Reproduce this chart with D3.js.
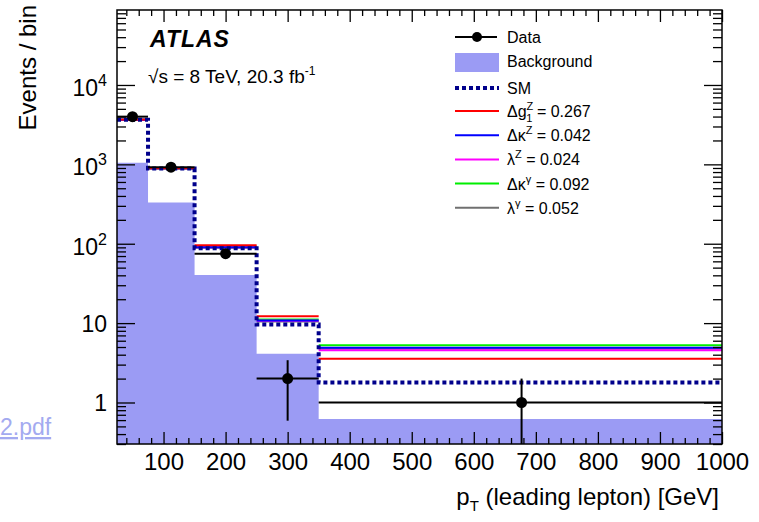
<!DOCTYPE html>
<html>
<head>
<meta charset="utf-8">
<script src="https://d3js.org/d3.v7.min.js"></script>
<style>
  body { margin: 0; background: #fff; }
  text { font-family: "Liberation Sans", Arial, Helvetica, sans-serif; }
</style>
</head>
<body>
<script>
// bin edges in GeV (leading lepton pT)
var binEdges = [25, 75, 150, 250, 350, 1000];

// data points (drawn at the mean pT of each bin)
var dataX = [50, 112, 200, 300, 677];
var dataY = [3990, 922, 75, 2, 1];
var dataErr = [63, 30, 8.7, 1.41, 1];

// expectations per bin
var background = [1050, 330, 40.4, 4.1, 0.62];
var smPred = [3640, 885, 88, 9.6, 1.79];
var dg1z = [3660, 895, 96, 12.2, 3.55];
var dkz = [3650, 890, 90, 10.8, 4.9];
var lz = [3650, 890, 90, 10.7, 4.55];
var dkg = [3660, 895, 92, 11.1, 5.26];
var lg = [3650, 888, 89, 10.5, 4.75];

var xMajor = [100, 200, 300, 400, 500, 600, 700, 800, 900, 1000];
var yMajor = [1, 10, 100, 1000, 10000];

var svgWidth = 759;
var svgHeight = 522;
var margin = { top: 10, right: 37, bottom: 78, left: 117 };
var width = svgWidth - margin.left - margin.right;
var height = svgHeight - margin.top - margin.bottom;

var svg = d3.select("body").append("svg")
  .attr("width", svgWidth)
  .attr("height", svgHeight);

var chart = svg.append("g")
  .attr("transform", `translate(${margin.left}, ${margin.top})`);

var x = d3.scaleLinear().domain([25, 1000]).range([0, width]);
var y = d3.scaleLog().domain([0.3, 8.8e4]).range([height, 0]);

chart.append("clipPath").attr("id", "plotclip")
  .append("rect").attr("width", width).attr("height", height);

var plot = chart.append("g").attr("clip-path", "url(#plotclip)");

// turn per-bin values into step points
function steps(vals) {
  var pts = vals.map(function(v, i) { return [binEdges[i], v]; });
  pts.push([binEdges[binEdges.length - 1], vals[vals.length - 1]]);
  return pts;
}

var area = d3.area()
  .curve(d3.curveStepAfter)
  .x(d => x(d[0]))
  .y0(height)
  .y1(d => y(d[1]));

var line = d3.line()
  .curve(d3.curveStepAfter)
  .x(d => x(d[0]))
  .y(d => y(d[1]));

plot.append("path")
  .attr("d", area(steps(background)))
  .attr("fill", "#9b9bf4");

var aTGC = [
  { vals: lg, color: "#707070" },
  { vals: dkg, color: "#00ee00" },
  { vals: lz, color: "#ff00ff" },
  { vals: dkz, color: "#0000ff" },
  { vals: dg1z, color: "#ff0000" }
];

// aTGC predictions: horizontal bin contents only
aTGC.forEach(function(s) {
  plot.selectAll(null).data(s.vals).enter().append("line")
    .attr("x1", (d, i) => x(binEdges[i]))
    .attr("x2", (d, i) => x(binEdges[i + 1]))
    .attr("y1", d => y(d)).attr("y2", d => y(d))
    .attr("stroke", s.color)
    .attr("stroke-width", 2);
});

plot.append("path")
  .attr("d", line(steps(smPred)))
  .attr("fill", "none")
  .attr("stroke", "#00008b")
  .attr("stroke-width", 4)
  .attr("stroke-dasharray", "4,3");

// data with error bars
var pts = plot.selectAll(".pt").data(dataY).enter().append("g");
pts.append("line")
  .attr("x1", (d, i) => x(binEdges[i]))
  .attr("x2", (d, i) => x(binEdges[i + 1]))
  .attr("y1", d => y(d)).attr("y2", d => y(d))
  .attr("stroke", "#000").attr("stroke-width", 2);
pts.append("line")
  .attr("x1", (d, i) => x(dataX[i])).attr("x2", (d, i) => x(dataX[i]))
  .attr("y1", (d, i) => y(d + dataErr[i]))
  .attr("y2", (d, i) => d - dataErr[i] > 0 ? y(d - dataErr[i]) : height + 5)
  .attr("stroke", "#000").attr("stroke-width", 2);
pts.append("circle")
  .attr("cx", (d, i) => x(dataX[i]))
  .attr("cy", d => y(d))
  .attr("r", 5.5)
  .attr("fill", "#000");

// axes: ROOT style ticks pointing inwards on all sides
var xMinor = d3.range(40, 1000, 20).filter(v => v % 100 !== 0);
var yMinor = [];
[0.1, 1, 10, 100, 1000, 10000].forEach(function(dec) {
  for (var k = 2; k <= 9; k++) {
    var v = dec * k;
    if (v >= 0.3 && v <= 8.8e4) yMinor.push(v);
  }
});

function styleAxis(g) {
  g.select(".domain").remove();
  g.selectAll(".tick line").attr("stroke", "#000").attr("stroke-width", 1.3);
}

chart.append("g").attr("transform", `translate(0, ${height})`)
  .call(d3.axisBottom(x).tickValues(xMajor).tickSize(-12).tickPadding(9).tickFormat(d3.format("d")))
  .call(styleAxis)
  .selectAll("text")
  .attr("font-size", 24).attr("fill", "#000")
  .style("font-family", "'Liberation Sans', Arial, sans-serif");

chart.append("g").attr("transform", `translate(0, ${height})`)
  .call(d3.axisBottom(x).tickValues(xMinor).tickSize(-6).tickFormat(""))
  .call(styleAxis);

chart.append("g")
  .call(d3.axisTop(x).tickValues(xMajor).tickSize(-12).tickFormat(""))
  .call(styleAxis);
chart.append("g")
  .call(d3.axisTop(x).tickValues(xMinor).tickSize(-6).tickFormat(""))
  .call(styleAxis);

chart.append("g")
  .call(d3.axisLeft(y).tickValues(yMajor).tickSize(-18).tickFormat(""))
  .call(styleAxis);
chart.append("g")
  .call(d3.axisLeft(y).tickValues(yMinor).tickSize(-9).tickFormat(""))
  .call(styleAxis);
chart.append("g").attr("transform", `translate(${width}, 0)`)
  .call(d3.axisRight(y).tickValues(yMajor).tickSize(-18).tickFormat(""))
  .call(styleAxis);
chart.append("g").attr("transform", `translate(${width}, 0)`)
  .call(d3.axisRight(y).tickValues(yMinor).tickSize(-9).tickFormat(""))
  .call(styleAxis);

// y tick labels: 1, 10, 10^2 ...
yMajor.forEach(function(v) {
  var p = Math.round(Math.log10(v));
  var t = chart.append("text")
    .attr("x", -10)
    .attr("text-anchor", "end")
    .attr("font-size", 23)
    .attr("fill", "#000");
  if (p < 2) {
    t.attr("y", y(v) + 9).text(String(v));
  } else {
    t.attr("y", y(v) + 11);
    t.append("tspan").text("10");
    t.append("tspan").attr("dy", -10).attr("font-size", 16).text(p);
  }
});

// frame
chart.append("rect")
  .attr("width", width).attr("height", height)
  .attr("fill", "none").attr("stroke", "#000").attr("stroke-width", 1.5);

// axis titles
svg.append("text")
  .attr("transform", "translate(36, 5) rotate(-90)")
  .attr("text-anchor", "end")
  .attr("font-size", 24)
  .text("Events / bin");

var xt = svg.append("text")
  .attr("x", 719).attr("y", 505)
  .attr("text-anchor", "end")
  .attr("font-size", 24);
xt.append("tspan").text("p");
xt.append("tspan").attr("dy", 6).attr("font-size", 15).text("T");
xt.append("tspan").attr("dy", -6).text(" (leading lepton) [GeV]");

// ATLAS label
svg.append("text")
  .attr("x", 150).attr("y", 47)
  .attr("font-size", 23)
  .attr("font-weight", "bold")
  .attr("font-style", "italic")
  .attr("letter-spacing", 1)
  .text("ATLAS");

var lum = svg.append("text")
  .attr("x", 148).attr("y", 83)
  .attr("font-size", 19);
lum.append("tspan").text("\u221As = 8 TeV, 20.3 fb");
lum.append("tspan").attr("dy", -8).attr("font-size", 12).text("-1");

// legend
var legX = 455, legW = 44, legText = 507;
var leg = svg.append("g");

leg.append("line").attr("x1", legX).attr("x2", legX + legW - 2)
  .attr("y1", 37).attr("y2", 37).attr("stroke", "#000").attr("stroke-width", 2);
leg.append("circle").attr("cx", 477).attr("cy", 37).attr("r", 5).attr("fill", "#000");
leg.append("text").attr("x", legText).attr("y", 43).attr("font-size", 16).text("Data");

leg.append("rect").attr("x", legX).attr("y", 53).attr("width", legW).attr("height", 19)
  .attr("fill", "#9b9bf4");
leg.append("text").attr("x", legText).attr("y", 67).attr("font-size", 16).text("Background");

leg.append("line").attr("x1", legX).attr("x2", legX + legW)
  .attr("y1", 88).attr("y2", 88).attr("stroke", "#00008b")
  .attr("stroke-width", 4).attr("stroke-dasharray", "4,3");
leg.append("text").attr("x", legText).attr("y", 94).attr("font-size", 16).text("SM");

var legEntries = [
  { color: "#ff0000", base: "\u0394g", sub: "1", sup: "Z", val: " = 0.267" },
  { color: "#0000ff", base: "\u0394\u03BA", sup: "Z", val: " = 0.042" },
  { color: "#ff00ff", base: "\u03BB", sup: "Z", val: " = 0.024" },
  { color: "#00ee00", base: "\u0394\u03BA", sup: "\u03B3", val: " = 0.092" },
  { color: "#707070", base: "\u03BB", sup: "\u03B3", val: " = 0.052" }
];

legEntries.forEach(function(e, i) {
  var ly = 111 + i * 24.2;
  leg.append("line").attr("x1", legX).attr("x2", legX + legW)
    .attr("y1", ly).attr("y2", ly)
    .attr("stroke", e.color).attr("stroke-width", 2);
  var t = leg.append("text").attr("x", legText).attr("y", ly + 6).attr("font-size", 16);
  t.append("tspan").text(e.base);
  t.append("tspan").attr("dy", -7).attr("font-size", 11).text(e.sup);
  if (e.sub) {
    t.append("tspan").attr("dx", -7).attr("dy", 12).attr("font-size", 11).text(e.sub);
    t.append("tspan").attr("dy", -5).text(e.val);
  } else {
    t.append("tspan").attr("dy", 7).text(e.val);
  }
});

// fragment of a link caption at the left edge
svg.append("text")
  .attr("x", 0).attr("y", 435)
  .attr("font-size", 23)
  .attr("fill", "#a3aaf0")
  .attr("text-decoration", "underline")
  .text("2.pdf");
</script>
</body>
</html>
